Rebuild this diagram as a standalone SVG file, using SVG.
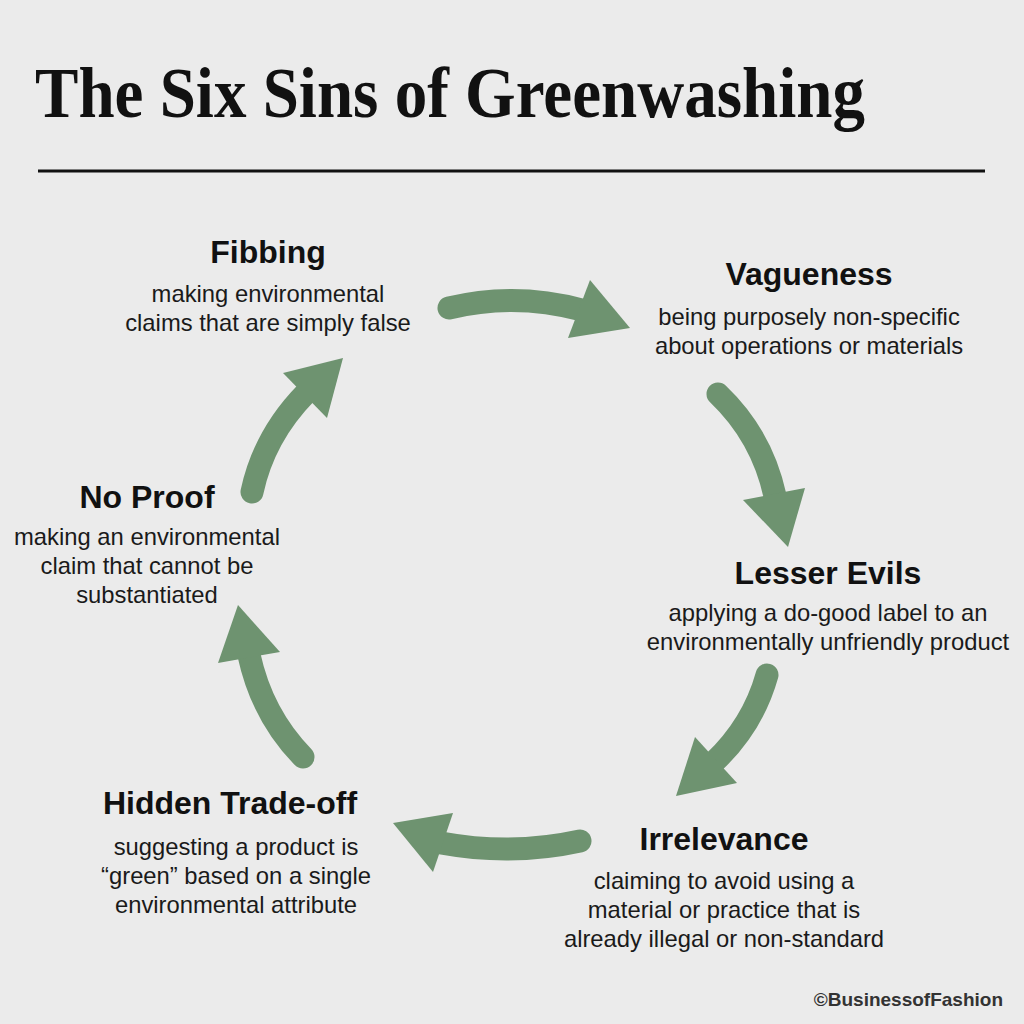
<svg xmlns="http://www.w3.org/2000/svg" width="1024" height="1024" viewBox="0 0 1024 1024">
<style>
.h{font-family:"Liberation Sans",Arial,sans-serif;font-weight:700;font-size:32px;fill:#111;text-anchor:middle}
.d{font-family:"Liberation Sans",Arial,sans-serif;font-size:23.8px;fill:#1a1a1a;text-anchor:middle}
.arr path{fill:none;stroke:#6e9370;stroke-width:23;stroke-linecap:round}
.arr polygon{fill:#6e9370}
</style>
<rect width="1024" height="1024" fill="#ebebeb"/>
<text x="35" y="117" font-family="Liberation Serif,Times New Roman,serif" font-weight="700" font-size="72" fill="#111" textLength="830" lengthAdjust="spacingAndGlyphs">The Six Sins of Greenwashing</text>
<line x1="38" y1="171" x2="985" y2="171" stroke="#111" stroke-width="3"/>
<g id="connectors" class="arr">
<path d="M449,308 Q515,292 582,310"/><polygon points="590,280 630,328 568,338"/>
<path d="M718,394 Q762,436 775,496"/><polygon points="743,500 805,488 788,547"/>
<path d="M767,675 Q753,725 714,762"/><polygon points="695,737 737,783 676,796"/>
<path d="M580,841 Q512,856 441,843"/><polygon points="453,813 433,872 393,823"/>
<path d="M303,757 Q262,715 249,655"/><polygon points="218,663 280,652 238,605"/>
<path d="M252,492 Q264,436 306,393"/><polygon points="283,373 327,418 343,358"/>
</g>
<g id="fibbing"><text class="h" x="268" y="263">Fibbing</text><text class="d" x="268" y="302">making environmental</text><text class="d" x="268" y="331">claims that are simply false</text></g>
<g id="vagueness"><text class="h" x="809" y="285">Vagueness</text><text class="d" x="809" y="325">being purposely non-specific</text><text class="d" x="809" y="354">about operations or materials</text></g>
<g id="lesser-evils"><text class="h" x="828" y="584">Lesser Evils</text><text class="d" x="828" y="621">applying a do-good label to an</text><text class="d" x="828" y="650">environmentally unfriendly product</text></g>
<g id="irrelevance"><text class="h" x="724" y="850">Irrelevance</text><text class="d" x="724" y="889">claiming to avoid using a</text><text class="d" x="724" y="918">material or practice that is</text><text class="d" x="724" y="947">already illegal or non-standard</text></g>
<g id="hidden-trade-off"><text class="h" x="230" y="814">Hidden Trade-off</text><text class="d" x="236" y="855">suggesting a product is</text><text class="d" x="236" y="884">“green” based on a single</text><text class="d" x="236" y="913">environmental attribute</text></g>
<g id="no-proof"><text class="h" x="147" y="508">No Proof</text><text class="d" x="147" y="545">making an environmental</text><text class="d" x="147" y="574">claim that cannot be</text><text class="d" x="147" y="603">substantiated</text></g>
<text x="1003" y="1006" font-family="Liberation Sans,Arial,sans-serif" font-weight="700" font-size="19" fill="#333" text-anchor="end">©BusinessofFashion</text>
</svg>
